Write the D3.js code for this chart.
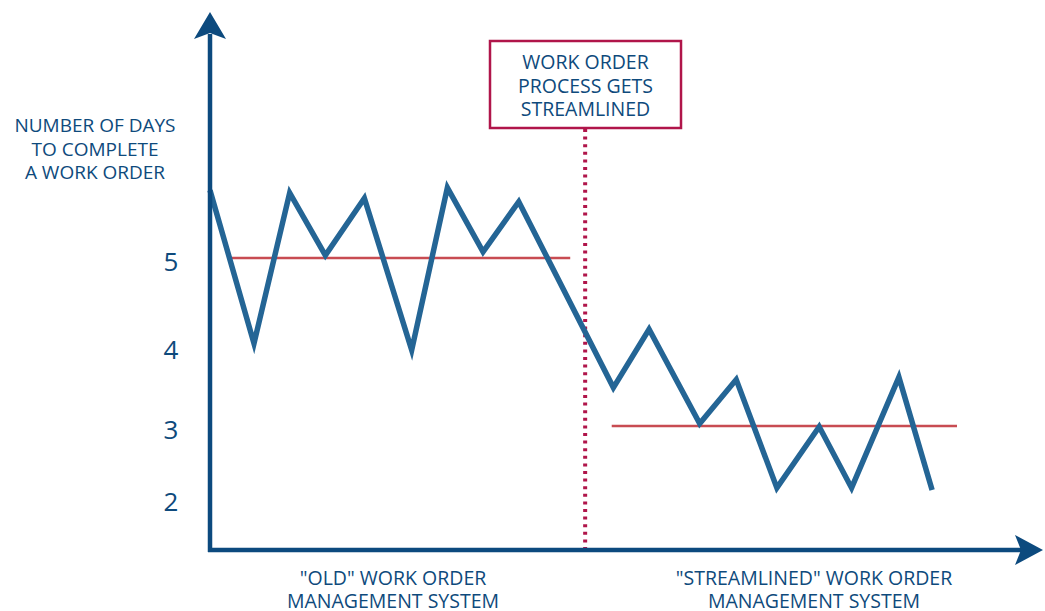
<!DOCTYPE html>
<html><head><meta charset="utf-8">
<script src="https://cdn.jsdelivr.net/npm/d3@7"></script>
<style>body{margin:0;background:#fff}svg{display:block}text{font-family:"Open Sans",sans-serif;fill:#0e4a7c}</style>
</head><body><svg id="c" width="1045" height="611"></svg>
<script>
// time units (arbitrary) along x, days along y
const timePoints = [0, 5.3, 9.6, 13.9, 18.6, 24.3, 28.6, 32.9, 37.2, 48.6, 52.9, 59.0, 63.4, 68.3, 73.4, 77.3, 83.0, 87.0];
const daysValues = [5.77, 4.03, 5.74, 5.03, 5.68, 3.95, 5.80, 5.07, 5.64, 3.48, 4.19, 3.03, 3.58, 2.14, 2.99, 2.14, 3.61, 2.11];
const yTicks = [2, 3, 4, 5];
const meanOld = {value: 5, from: 2.2, to: 43.4};
const meanNew = {value: 3, from: 48.4, to: 90.0};
const changeAt = 45.2;
const yTitle = ["NUMBER OF DAYS", "TO COMPLETE", "A WORK ORDER"];
const boxText = ["WORK ORDER", "PROCESS GETS", "STREAMLINED"];
const leftLabel = ["\"OLD\" WORK ORDER", "MANAGEMENT SYSTEM"];
const rightLabel = ["\"STREAMLINED\" WORK ORDER", "MANAGEMENT SYSTEM"];

const svg = d3.select("#c");
const navy = "#0c4a7e", lineBlue = "#246595", red = "#c84c52", crimson = "#b0154a";
const x = d3.scaleLinear().domain([0, 100]).range([210, 1040]);
const y = d3.scaleLinear().domain([2, 3, 4, 5]).range([498, 426, 346, 258]);
const x0 = 210, yBase = 550;

// mean lines
[meanOld, meanNew].forEach(m => {
  svg.append("line").attr("x1", x(m.from)).attr("x2", x(m.to))
    .attr("y1", y(m.value)).attr("y2", y(m.value))
    .attr("stroke", red).attr("stroke-width", 2.4);
});

// change marker
svg.append("line").attr("x1", x(changeAt)).attr("x2", x(changeAt))
  .attr("y1", 129).attr("y2", yBase - 2)
  .attr("stroke", crimson).attr("stroke-width", 4).attr("stroke-dasharray", "3,4.6");

// data line
svg.append("path").datum(timePoints.map((t, i) => [t, daysValues[i]]))
  .attr("d", d3.line().x(d => x(d[0])).y(d => y(d[1])))
  .attr("fill", "none").attr("stroke", lineBlue).attr("stroke-width", 5.5)
  .attr("stroke-linejoin", "miter").attr("stroke-miterlimit", 10);

// axes
svg.append("line").attr("x1", x0).attr("x2", x0).attr("y1", yBase + 2).attr("y2", 34)
  .attr("stroke", navy).attr("stroke-width", 4.5);
svg.append("line").attr("x1", x0 - 2).attr("x2", 1022).attr("y1", yBase).attr("y2", yBase)
  .attr("stroke", navy).attr("stroke-width", 4.5);
svg.append("path").attr("d", `M${x0},12 L${x0+16},39 L${x0},33 L${x0-16},39 Z`).attr("fill", navy);
svg.append("path").attr("d", `M1043,${yBase} L1015,${yBase-15} L1021,${yBase} L1015,${yBase+15} Z`).attr("fill", navy);

// y tick labels
svg.selectAll(".tick").data(yTicks).enter().append("text")
  .attr("x", 171).attr("y", d => y(d) + 13).attr("text-anchor", "middle")
  .attr("font-size", 26).text(d => d);

// y title
yTitle.forEach((t, i) => svg.append("text").attr("x", 95).attr("y", 132 + i * 23.5)
  .attr("text-anchor", "middle").attr("font-size", 19).text(t));

// annotation box
svg.append("rect").attr("x", 490).attr("y", 41).attr("width", 191).attr("height", 87)
  .attr("fill", "#fff").attr("stroke", crimson).attr("stroke-width", 2.5);
boxText.forEach((t, i) => svg.append("text").attr("x", 585.5).attr("y", 69 + i * 23.5)
  .attr("text-anchor", "middle").attr("font-size", 19.5).text(t));

// bottom labels
[[leftLabel, 393], [rightLabel, 814]].forEach(([lines, cx]) => lines.forEach((t, i) =>
  svg.append("text").attr("x", cx).attr("y", 585 + i * 22.5).attr("text-anchor", "middle")
    .attr("font-size", 19.5).text(t)));
</script></body></html>
